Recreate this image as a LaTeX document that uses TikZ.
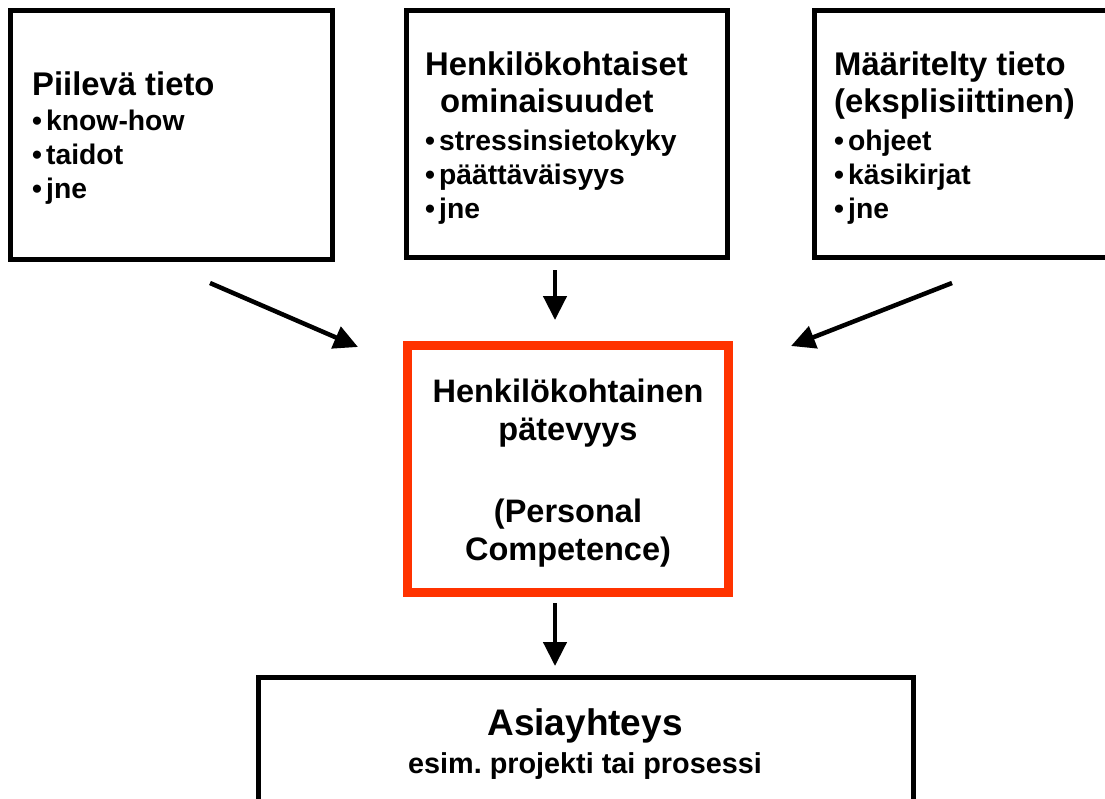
\documentclass[tikz,border=0pt]{standalone}
\usepackage{fontspec}
\setmainfont{Liberation Sans}
\usetikzlibrary{arrows.meta}
\definecolor{compred}{RGB}{255,51,0}
\begin{document}
\begin{tikzpicture}[x=1pt,y=-1pt,
  box/.style={draw=black,line width=5pt,inner sep=0pt},
  redbox/.style={draw=compred,line width=9pt,inner sep=0pt},
  txt/.style={anchor=base west,inner sep=0pt,font=\bfseries\fontsize{28.3}{30}\selectfont},
  ttl/.style={anchor=base west,inner sep=0pt,font=\bfseries\fontsize{32.8}{36}\selectfont},
  ctr/.style={anchor=base,inner sep=0pt,font=\bfseries\fontsize{32.5}{36}\selectfont},
  flow/.style={line width=4.5pt,-{Triangle[length=24pt,width=23pt]}}]
\useasboundingbox (0,0) rectangle (1105,798);
\newcommand{\itm}[1]{\makebox[14pt][l]{•}#1}

% knowledge sources
\node[box,minimum width=322pt,minimum height=249pt] (tacit) at (171.5,135) {};
\node[box,minimum width=321pt,minimum height=247pt] (personal) at (567,134) {};
\node[box,minimum width=306pt,minimum height=247pt] (explicit) at (967,134) {};

% competence and context
\node[redbox,minimum width=321pt,minimum height=247pt] (comp) at (568,469) {};
\node[box,minimum width=655pt,minimum height=145pt] (context) at (586,750) {};

% texts of the source boxes
\node[ttl] (t1) at (32,95) {Piilevä tieto};
\node[txt] (t1a) at (32,130) {\itm{know-how}};
\node[txt] (t1b) at (32,164) {\itm{taidot}};
\node[txt] (t1c) at (32,198) {\itm{jne}};

\node[ttl] (t2) at (425,75) {Henkilökohtaiset};
\node[ttl] (t2x) at (440,112) {ominaisuudet};
\node[txt] (t2a) at (425,150) {\itm{stressinsietokyky}};
\node[txt] (t2b) at (425,184) {\itm{päättäväisyys}};
\node[txt] (t2c) at (425,218) {\itm{jne}};

\node[ttl] (t3) at (834,75) {Määritelty tieto};
\node[ttl] (t3x) at (834,112) {(eksplisiittinen)};
\node[txt] (t3a) at (834,150) {\itm{ohjeet}};
\node[txt] (t3b) at (834,184) {\itm{käsikirjat}};
\node[txt] (t3c) at (834,218) {\itm{jne}};

% texts of the competence box
\node[ctr] (c1) at (568,402) {Henkilökohtainen};
\node[ctr] (c2) at (568,440) {pätevyys};
\node[ctr] (c3) at (568,522) {(Personal};
\node[ctr] (c4) at (568,560) {Competence)};

% texts of the context box
\node[anchor=base,inner sep=0pt,font=\bfseries\fontsize{37}{40}\selectfont] (k1) at (585,735) {Asiayhteys};
\node[anchor=base,inner sep=0pt,font=\bfseries\fontsize{28.8}{30}\selectfont] (k2) at (585,773) {esim.\ projekti tai prosessi};

% arrow end points
\coordinate (a1s) at (210,283);
\coordinate (a1e) at (358,347);
\coordinate (a2s) at (555,270);
\coordinate (a2e) at (555,320);
\coordinate (a3s) at (952,283);
\coordinate (a3e) at (791,346);
\coordinate (a4s) at (555,603);
\coordinate (a4e) at (555,666);

\draw[flow] (a1s) -- (a1e);
\draw[flow] (a2s) -- (a2e);
\draw[flow] (a3s) -- (a3e);
\draw[flow] (a4s) -- (a4e);
\end{tikzpicture}
\end{document}
